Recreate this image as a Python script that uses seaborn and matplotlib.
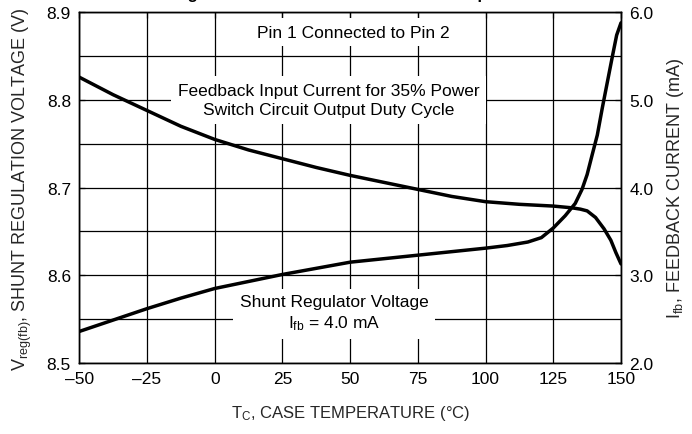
import numpy as np
import pandas as pd
import seaborn as sns
import matplotlib.pyplot as plt
from matplotlib.ticker import MultipleLocator, FormatStrFormatter

# ---- data ----
temp_volt = [-50, -37.5, -25, -12.5, 0, 12.5, 25, 37.5, 50, 62.5, 75, 87.5, 100,
             108, 115.6, 120.6, 125, 129.4, 133.1, 135.6, 137.5, 139.4, 141.25,
             143.1, 145, 146.9, 148.4, 150]
shunt_volt = [8.536, 8.549, 8.562, 8.574, 8.585, 8.593, 8.601, 8.608, 8.615, 8.619,
              8.623, 8.627, 8.631, 8.634, 8.638, 8.643, 8.654, 8.668, 8.682, 8.698,
              8.715, 8.738, 8.760, 8.791, 8.821, 8.851, 8.874, 8.888]

temp_curr = [-50, -37.5, -25, -12.5, 0, 12.5, 25, 37.5, 50, 62.5, 75, 87.5, 100,
             112.5, 125, 131.9, 135, 137.5, 140.6, 143.75, 146.25, 148.1, 150]
fb_curr = [5.26, 5.06, 4.88, 4.70, 4.55, 4.43, 4.33, 4.23, 4.14, 4.06, 3.98, 3.90, 3.84,
           3.81, 3.79, 3.77, 3.755, 3.735, 3.66, 3.53, 3.40, 3.26, 3.13]

x_ticks = [-50, -25, 0, 25, 50, 75, 100, 125, 150]

df_v = pd.DataFrame({"temp": temp_volt, "volt": shunt_volt})
df_i = pd.DataFrame({"temp": temp_curr, "curr": fb_curr})

# ---- style ----
sns.set_theme(style="white")
plt.rcParams['font.family'] = ['Liberation Sans', 'DejaVu Sans']
plt.rcParams['mathtext.fontset'] = 'custom'
plt.rcParams['mathtext.rm'] = 'Liberation Sans'
plt.rcParams['mathtext.it'] = 'Liberation Sans:italic'
plt.rcParams['text.color'] = 'black'

fs = 12.5

fig = plt.figure(figsize=(6.92, 4.35), dpi=100)
ax = fig.add_axes([0.1146, 0.1632, 0.7828, 0.8062])
ax2 = ax.twinx()

sns.lineplot(data=df_v, x="temp", y="volt", ax=ax, color="black", lw=2.5, zorder=3)
sns.lineplot(data=df_i, x="temp", y="curr", ax=ax2, color="black", lw=2.5, zorder=3)

ax.set_xlim(-50, 150)
ax.set_ylim(8.5, 8.9)
ax2.set_ylim(2.0, 6.0)

ax.set_xticks(x_ticks)
ax.set_xticklabels([str(t).replace('-', '\u2013') for t in x_ticks])
ax.yaxis.set_major_locator(MultipleLocator(0.1))
ax.yaxis.set_minor_locator(MultipleLocator(0.05))
ax.yaxis.set_major_formatter(FormatStrFormatter('%.1f'))
ax2.yaxis.set_major_locator(MultipleLocator(1.0))
ax2.yaxis.set_major_formatter(FormatStrFormatter('%.1f'))

ax.set_axisbelow(True)
ax.grid(True, which='both', color='black', lw=0.9)
ax.tick_params(axis='both', which='both', direction='in', length=4, width=0.9,
               colors='black', labelsize=fs, pad=6, top=True)
ax.tick_params(axis='y', which='minor', left=False)
ax2.tick_params(axis='y', direction='in', length=4, width=0.9, colors='black',
                labelsize=fs, pad=6)
ax2.grid(False)

for a in (ax, ax2):
    for s in a.spines.values():
        s.set_color('black')
        s.set_linewidth(1.0)

ax.set_xlabel(r"T$_{\mathrm{C}}$, CASE TEMPERATURE (°C)", fontsize=12, labelpad=12)
ax.set_ylabel(r"V$_{\mathrm{reg(fb)}}$, SHUNT REGULATION VOLTAGE (V)", fontsize=13, labelpad=9)
ax2.set_ylabel(r"I$_{\mathrm{fb}}$, FEEDBACK CURRENT (mA)", fontsize=13, labelpad=8,
               rotation=90)

box = dict(boxstyle='square,pad=0.4', fc='white', ec='none')
ax.text(51, 8.8775, "Pin 1 Connected to Pin 2", ha='center', va='center',
        fontsize=fs, bbox=box, zorder=2)
ax.text(42, 8.80, "Feedback Input Current for 35% Power\nSwitch Circuit Output Duty Cycle",
        ha='center', va='center', fontsize=fs, bbox=box, zorder=2, linespacing=1.3)
ax.text(44, 8.5567, "Shunt Regulator Voltage\n" + r"I$_{\mathrm{fb}}$ = 4.0 mA",
        ha='center', va='center', fontsize=fs, bbox=box, zorder=2, linespacing=1.3)

# title cut off by the top edge in the reference
fig.text(0.50, 1.0 + 1.0 / 435, "Voltage and Feedback Current versus Temperature",
         ha='center', va='baseline', fontsize=11.8, fontweight='bold')

fig.savefig("out.png", dpi=100)
